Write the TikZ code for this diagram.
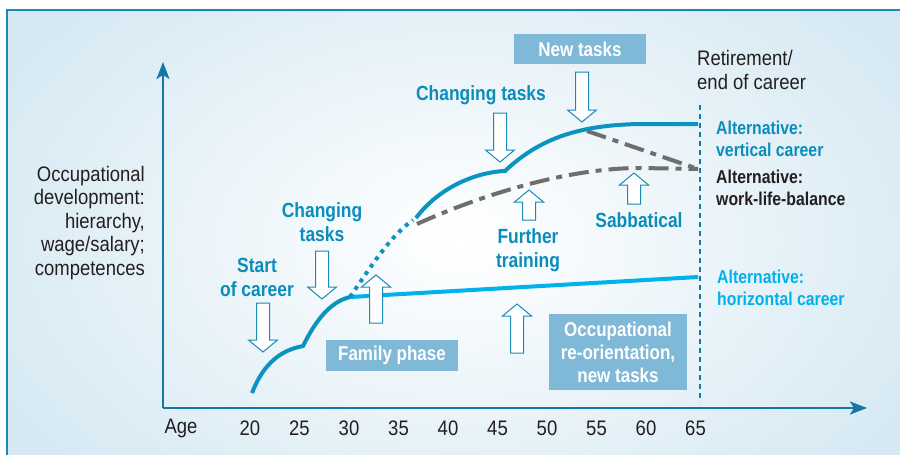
\documentclass[tikz,border=0pt]{standalone}
\usepackage{fontspec}
\setmainfont{Liberation Sans}[FakeStretch=0.88, BoldFeatures={FakeStretch=0.85}]
\usetikzlibrary{arrows.meta}
\definecolor{bg}{HTML}{D6E9F3}
\definecolor{framec}{HTML}{1A8AB5}
\definecolor{axisc}{HTML}{1479A8}
\definecolor{tblue}{HTML}{0A8DBB}
\definecolor{curvec}{HTML}{0B94C0}
\definecolor{lblue}{HTML}{00B2EC}
\definecolor{grayc}{HTML}{6E6E6E}
\definecolor{boxc}{HTML}{7FB9D7}
\definecolor{txt}{HTML}{231F20}
\tikzset{
  blockarr/.style={draw=framec, fill=white, line width=1pt, line join=miter},
  pics/darr/.style={code={\path[blockarr] (-6.5,0) -- (6.5,0) -- (6.5,#1-12) -- (14.5,#1-12) -- (0,#1) -- (-14.5,#1-12) -- (-6.5,#1-12) -- cycle;}},
  pics/uarr/.style={code={\path[blockarr] (-6.5,0) -- (6.5,0) -- (6.5,12-#1) -- (14.5,12-#1) -- (0,-#1) -- (-14.5,12-#1) -- (-6.5,12-#1) -- cycle;}},
  lab/.style={font=\bfseries\fontsize{20.5}{24}\selectfont, text=tblue, align=center, inner sep=0pt},
  alt/.style={font=\bfseries\fontsize{18.6}{22}\selectfont, align=left, anchor=west, inner sep=0pt},
  reg/.style={font=\fontsize{21}{23.5}\selectfont, text=txt, inner sep=0pt},
  boxn/.style={fill=boxc, text=white, font=\bfseries\fontsize{20}{23}\selectfont, align=center, inner sep=0pt},
  axis/.style={draw=axisc, line width=2.5pt, -{Stealth[length=17pt,width=13pt,inset=4pt]}},
  curve/.style={draw=curvec, line width=4pt},
  dashdot/.style={draw=grayc, line width=4pt, dash pattern=on 20pt off 7pt on 6pt off 7pt},
}
\begin{document}
\begin{tikzpicture}[x=1pt,y=-1pt]
\useasboundingbox (0,0) rectangle (900,455);
\clip (0,0) rectangle (900,455);
\fill[white] (0,0) rectangle (900,455);
\fill[bg] (7,10) rectangle (905,460);
\begin{scope}
\clip (8,11) rectangle (900,455);
\shade[inner color=white, outer color=bg] (460,240) ellipse [x radius=520, y radius=340];
\end{scope}
\draw[framec, line width=2.5pt] (7,465) -- (7,10) -- (905,10);

% axes
\coordinate (O) at (163,408);
\coordinate (ytop) at (163,62);
\coordinate (xend) at (867,408);
\draw[axis] (O) -- (ytop);
\draw[axis] (O) -- (xend);

% retirement line
\coordinate (r1) at (700,105);
\coordinate (r2) at (700,402);
\draw[draw=axisc, line width=2.5pt, dash pattern=on 5pt off 4pt] (r1) -- (r2);

% curves
\coordinate (c0) at (252,393);
\coordinate (k1) at (303,346);
\coordinate (c30) at (350,297);
\coordinate (d1) at (413,220);
\coordinate (s1) at (416,218);
\coordinate (k2) at (505,171);
\coordinate (v65) at (698,124);
\coordinate (g1) at (417,224);
\coordinate (g65) at (698,169);
\coordinate (gs) at (587,131);
\coordinate (h65) at (698,277);

\draw[lblue, line width=4pt] (c30) -- (h65);
\draw[dashdot] (g1) .. controls (470,200) and (560,168) .. (640,168) -- (g65);
\draw[dashdot] (gs) -- (g65);
\draw[curve] (c0) .. controls (264,362) and (282,350) .. (k1)
  .. controls (316,320) and (330,302) .. (c30);
\draw[curvec, line width=4pt, dash pattern=on 4pt off 5pt] (c30) .. controls (370,268) and (390,236) .. (d1);
\draw[curve] (s1) .. controls (440,186) and (478,172) .. (k2)
  .. controls (540,138) and (580,125) .. (640,124) -- (v65);

% block arrows
\pic (a1) at (263,303) {darr=49};
\pic (a2) at (322,251) {darr=48};
\pic (a3) at (376,323) {uarr=48};
\pic (a4) at (517,353) {uarr=49};
\pic (a5) at (529,220) {uarr=30};
\pic (a6) at (634,204) {uarr=31};
\pic (a7) at (500,113) {darr=49};
\pic (a8) at (582,72) {darr=50};

% texts
\node[reg, align=right, anchor=east] (ylab) at (145,223) {Occupational\\development:\\hierarchy,\\wage/salary;\\competences};
\node[reg] (age) at (181,428) {Age};
\foreach \a [count=\i from 0] in {20,25,...,65} {
  \node[reg] (t\a) at (250+49.5*\i,428) {\a};
}
\node[lab] (start) at (257,277) {Start\\of career};
\node[lab] (ct1) at (322,222) {Changing\\tasks};
\node[lab] (ct2) at (481,95) {Changing tasks};
\node[lab] (ft) at (528,250) {Further\\training};
\node[lab] (sab) at (639,220) {Sabbatical};
\node[reg, align=left, anchor=west] (ret) at (697,70) {Retirement/\\end of career};
\node[alt, text=tblue] (altv) at (716,139) {Alternative:\\vertical career};
\node[alt, text=txt] (altw) at (716,188) {Alternative:\\work-life-balance};
\node[alt, text=lblue] (alth) at (717,288) {Alternative:\\horizontal career};

\node[boxn, minimum width=132pt, minimum height=30pt] (nt) at (580,49) {New tasks};
\node[boxn, minimum width=132pt, minimum height=31pt] (fp) at (392,355.5) {Family phase};
\node[boxn, minimum width=138pt, minimum height=76pt] (occ) at (618,352) {Occupational\\re-orientation,\\new tasks};
\end{tikzpicture}
\end{document}
